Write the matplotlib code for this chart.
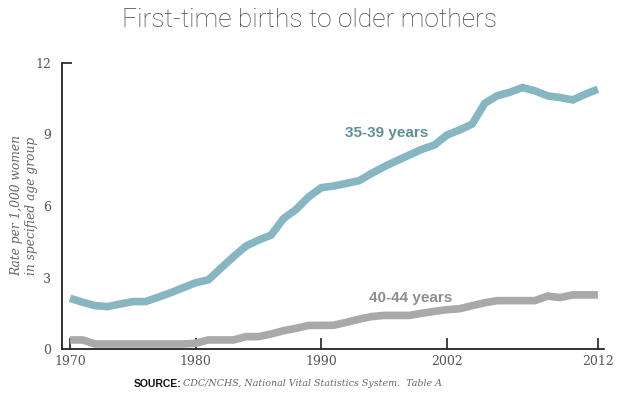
import matplotlib.pyplot as plt

# Dati
years = list(range(1970, 2013))
age_35_39 = [2.13, 1.96, 1.82, 1.78, 1.89, 1.99, 1.99, 2.17, 2.36, 2.57,
             2.78, 2.90, 3.39, 3.87, 4.32, 4.57, 4.78, 5.48, 5.86, 6.39,
             6.77, 6.84, 6.95, 7.06, 7.37, 7.65, 7.90, 8.14, 8.38, 8.56,
             8.98, 9.19, 9.44, 10.31, 10.63, 10.77, 10.97, 10.83, 10.62, 10.55,
             10.45, 10.69, 10.90]
age_40_44 = [0.38, 0.38, 0.21, 0.21, 0.21, 0.21, 0.21, 0.21, 0.21, 0.21,
             0.24, 0.38, 0.38, 0.38, 0.52, 0.52, 0.63, 0.77, 0.87, 0.99,
             0.99, 1.00, 1.12, 1.25, 1.36, 1.41, 1.41, 1.41, 1.50, 1.58,
             1.65, 1.69, 1.82, 1.94, 2.03, 2.03, 2.03, 2.03, 2.22, 2.16,
             2.27, 2.27, 2.27]
xtick_pos = [1970, 1980, 1990, 2000, 2012]
xtick_labels = ["1970", "1980", "1990", "2002", "2012"]
ytick_pos = [0, 3, 6, 9, 12]

teal = "#86b6c1"
grey = "#a9a9a9"
serif = "DejaVu Serif"

fig = plt.figure(figsize=(6.2, 4.08), dpi=100)
ax = fig.add_axes([0.1, 0.1446, 0.874, 0.701])

ax.plot(years, age_35_39, color=teal, linewidth=5.5, solid_joinstyle="miter", solid_capstyle="butt")
ax.plot(years, age_40_44, color=grey, linewidth=5.5, solid_joinstyle="miter", solid_capstyle="butt")

ax.set_xlim(1969.36, 2012.48)
ax.set_ylim(0, 12)

for s in ["top", "right"]:
    ax.spines[s].set_visible(False)
for s in ["left", "bottom"]:
    ax.spines[s].set_color("#222222")
    ax.spines[s].set_linewidth(1.3)

ax.set_xticks(xtick_pos)
ax.set_xticklabels(xtick_labels, family=serif, color="#555555", fontsize=9)
ax.set_yticks(ytick_pos)
ax.set_yticklabels([str(v) for v in ytick_pos], family=serif, color="#555555", fontsize=9)
ax.tick_params(axis="x", direction="in", length=8, width=1.2, color="#222222", pad=4)
ax.tick_params(axis="y", direction="in", length=7, width=1.2, color="#222222", pad=8)
for t in ax.yaxis.get_major_ticks()[:-1]:
    t.tick1line.set_visible(False)

ax.set_ylabel("Rate per 1,000 women\nin specified age group", family=serif, style="italic",
              color="#666666", fontsize=8.8, linespacing=1.15)
ax.yaxis.set_label_coords(-0.045, 0.5)

ax.text(1991.9, 9.05, "35-39 years", color="#5f8e9a", fontsize=11, fontweight="bold",
        family="Liberation Sans", va="center")
ax.text(1993.8, 2.14, "40-44 years", color="#8e8e8e", fontsize=11, fontweight="bold",
        family="Liberation Sans", va="center")

fig.text(0.5, 0.95, "First-time births to older mothers", ha="center", va="center",
         fontsize=19, family="Roboto", fontweight="light", color="#444444")

fig.text(0.215, 0.06, "SOURCE:", ha="left", va="center", fontsize=7.5, fontweight="bold",
         family="Liberation Sans", color="#111111")
fig.text(0.295, 0.06, "CDC/NCHS, National Vital Statistics System.  Table A", ha="left",
         va="center", fontsize=6.85, style="italic", family=serif, color="#666666")

fig.savefig("out.png", dpi=100)
